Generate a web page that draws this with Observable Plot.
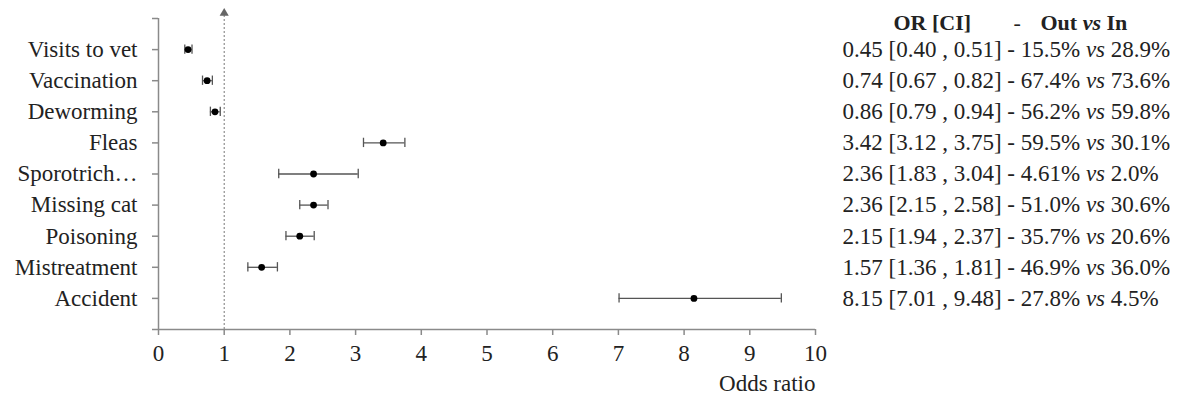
<!DOCTYPE html>
<html>
<head>
<meta charset="utf-8">
<script src="https://cdn.jsdelivr.net/npm/d3@7"></script>
<script src="https://cdn.jsdelivr.net/npm/@observablehq/plot@0.6"></script>
<style>
  html, body { margin: 0; padding: 0; background: #fff; }
  #chart svg { display: block; }
  #chart svg, #chart svg text { font-family: "Liberation Serif", "Times New Roman", serif !important; }
</style>
</head>
<body>
<div id="chart"></div>
<script>
const categories = ["Visits to vet", "Vaccination", "Deworming", "Fleas", "Sporotrich…", "Missing cat", "Poisoning", "Mistreatment", "Accident"];
const oddsRatio = [0.45, 0.74, 0.86, 3.42, 2.36, 2.36, 2.15, 1.57, 8.15];
const ciLow     = [0.40, 0.67, 0.79, 3.12, 1.83, 2.15, 1.94, 1.36, 7.01];
const ciHigh    = [0.51, 0.82, 0.94, 3.75, 3.04, 2.58, 2.37, 1.81, 9.48];
const pctOut    = ["15.5%", "67.4%", "56.2%", "59.5%", "4.61%", "51.0%", "35.7%", "46.9%", "27.8%"];
const pctIn     = ["28.9%", "73.6%", "59.8%", "30.1%", "2.0%", "30.6%", "20.6%", "36.0%", "4.5%"];
const xTicks = [0, 1, 2, 3, 4, 5, 6, 7, 8, 9, 10];
const refValue = 1;

const rows = categories.map((c, i) => ({
  cat: c, pos: i + 1, or: oddsRatio[i], lo: ciLow[i], hi: ciHigh[i],
  label: `${oddsRatio[i].toFixed(2)} [${ciLow[i].toFixed(2)} , ${ciHigh[i].toFixed(2)}] - ${pctOut[i]} vs ${pctIn[i]}`
}));

const ink = "#222";
const axisGray = "#8a8a8a";
const barGray = "#555";
const fs = 23;

const chart = Plot.plot({
  width: 1184,
  height: 396,
  marginTop: 18,
  marginBottom: 67,
  marginLeft: 158,
  marginRight: 369,
  style: { fontSize: "23px", color: ink, background: "#fff", overflow: "visible" },
  x: { domain: [0, 10], ticks: xTicks },
  y: { domain: [10, 0] },
  marks: [
    Plot.ruleY([10], { stroke: axisGray, strokeWidth: 1.5 }),
    Plot.ruleX([0], { stroke: axisGray, strokeWidth: 1.5 }),
    Plot.axisX({ ticks: xTicks, tickSize: 6, tickPadding: 9, stroke: axisGray, strokeWidth: 1.5, fill: ink, fontSize: fs, label: null }),
    Plot.axisY({ ticks: d3.range(0, 11), tickSize: 6, tickPadding: 15, stroke: axisGray, strokeWidth: 1.5, fill: ink, fontSize: fs, label: null,
      tickFormat: (d) => (d >= 1 && d <= categories.length ? categories[d - 1] : "") }),
    // reference line at OR = 1 with arrow head
    Plot.ruleX([refValue], { y1: 10, y2: -0.12, stroke: "#777", strokeWidth: 1, strokeDasharray: "2,2" }),
    Plot.dot([refValue], { x: (d) => d, y: -0.17, symbol: "triangle", r: 3.4, fill: "#666", stroke: "none" }),
    // error bars
    Plot.ruleY(rows, { y: "pos", x1: "lo", x2: "hi", stroke: barGray, strokeWidth: 1.3 }),
    Plot.ruleX(rows, { x: "lo", y1: (d) => d.pos - 0.15, y2: (d) => d.pos + 0.15, stroke: barGray, strokeWidth: 1.3 }),
    Plot.ruleX(rows, { x: "hi", y1: (d) => d.pos - 0.15, y2: (d) => d.pos + 0.15, stroke: barGray, strokeWidth: 1.3 }),
    Plot.dot(rows, { x: "or", y: "pos", r: 3.4, fill: "#000", stroke: "none" }),
    // x label
    Plot.text(["Odds ratio"], { frameAnchor: "bottom-right", dy: 54, lineAnchor: "middle", text: (d) => d, textAnchor: "end", fill: ink, fontSize: fs }),
    // table header
    Plot.text(["OR [CI]"], { frameAnchor: "top-right", dx: 78, dy: 4, lineAnchor: "middle", text: (d) => d, textAnchor: "start", fill: ink, fontSize: 22, fontWeight: "bold" }),
    Plot.text(["-"], { frameAnchor: "top-right", dx: 198, dy: 4, lineAnchor: "middle", text: (d) => d, textAnchor: "start", fill: ink, fontSize: 22 }),
    Plot.text(["Out vs In"], { frameAnchor: "top-right", dx: 225, dy: 4, lineAnchor: "middle", text: (d) => d, textAnchor: "start", fill: ink, fontSize: 22, fontWeight: "bold", className: "tblhead" }),
    // table rows
    Plot.text(rows, { y: "pos", frameAnchor: "right", dx: 27, text: "label", textAnchor: "start", fill: ink, fontSize: fs, className: "tbl" })
  ]
});

// italicize "vs"
d3.select(chart).selectAll("g.tbl text, g.tblhead text").each(function () {
  const t = d3.select(this);
  const s = this.textContent;
  const parts = s.split(" vs ");
  if (parts.length !== 2) return;
  t.text(null);
  t.append("tspan").text(parts[0] + " ");
  t.append("tspan").attr("font-style", "italic").text("vs");
  t.append("tspan").text(" " + parts[1]);
});

document.getElementById("chart").appendChild(chart);
</script>
</body>
</html>
